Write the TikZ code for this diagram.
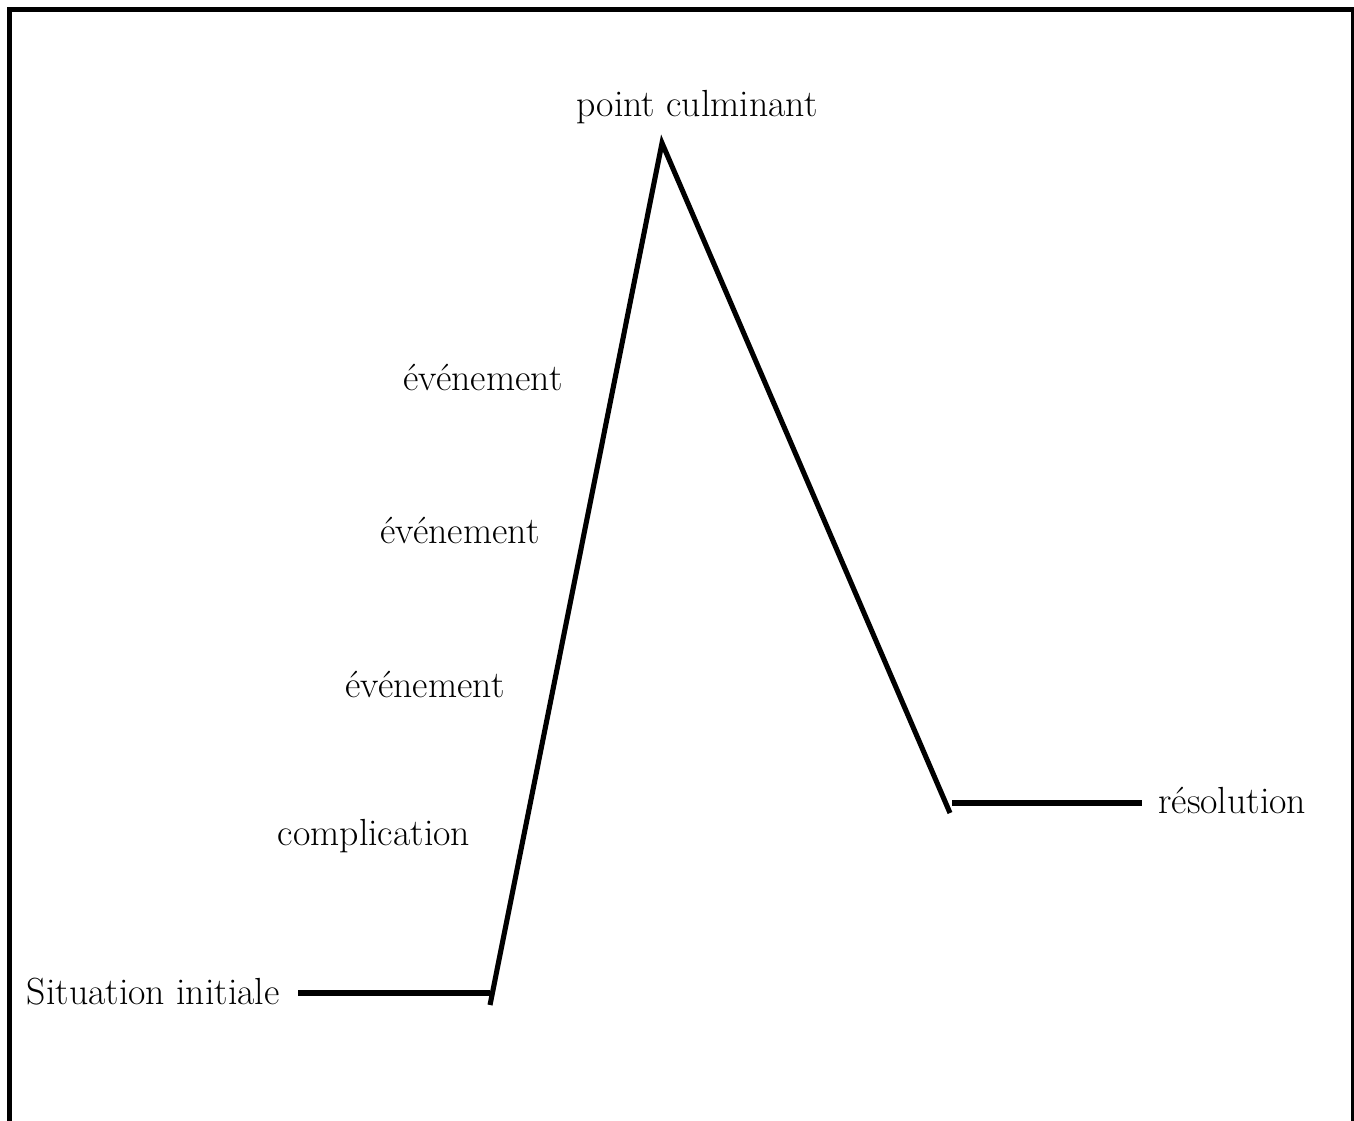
\documentclass[tikz,border=0pt]{standalone}
\usepackage{tikz}
\usetikzlibrary{positioning,calc}

\begin{document}
\begin{tikzpicture}[
    x=0.02cm, y=-0.02cm,
    label/.style={font=\fontsize{21.5}{26}\selectfont, inner sep=0pt},
    plot/.style={line width=2.9pt},
    frame/.style={line width=2.9pt}
]

\useasboundingbox (0,0) rectangle (1354,1120);
\clip (0,0) rectangle (1354,1120);
\draw[frame] (9.5,9.5) rectangle (1354,1140);

% the story curve
\coordinate (start) at (298,993);
\coordinate (base) at (490,993);
\coordinate (rise) at (490,1005);
\coordinate (peak) at (662,143);
\coordinate (fall) at (950,813);
\coordinate (endl) at (952,803);
\coordinate (endr) at (1142,803);

\draw[plot] (start) -- (base);
\draw[plot] (rise) -- (peak) -- (fall);
\draw[plot] (endl) -- (endr);

\node[label, anchor=east] (init) at (280,992) {Situation initiale};
\node[label] (clim) at (697,107) {point culminant};
\node[label, anchor=west] (res) at (1158,800) {résolution};
\node[label] (comp) at (374,836) {complication};
\node[label] (evt1) at (425,684) {événement};
\node[label] (evt2) at (460,530) {événement};
\node[label] (evt3) at (483,377) {événement};

\end{tikzpicture}
\end{document}
